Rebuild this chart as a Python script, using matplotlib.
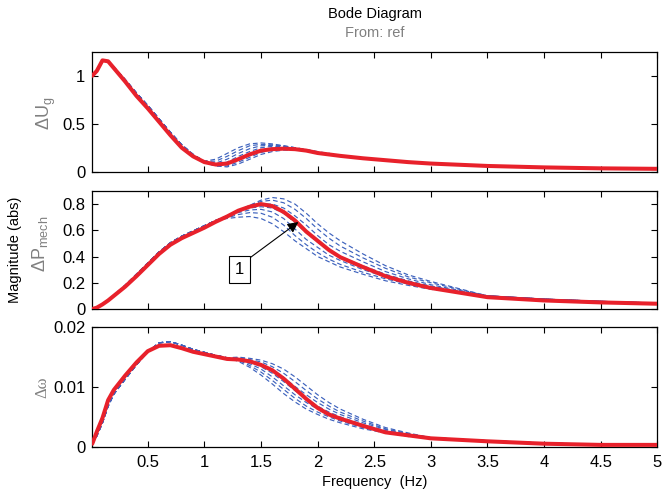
import matplotlib
matplotlib.use("Agg")
import matplotlib.pyplot as plt
import numpy as np

plt.rcParams['font.family'] = ['Liberation Sans', 'DejaVu Sans']
plt.rcParams['mathtext.fontset'] = 'custom'
plt.rcParams['mathtext.rm'] = 'Liberation Sans'
plt.rcParams['mathtext.it'] = 'Liberation Sans:italic'

# Frequency grid (Hz) shared by all responses
freq_hz = [0.01, 0.05, 0.1, 0.15, 0.2, 0.3, 0.4, 0.5, 0.6, 0.7, 0.8, 0.9,
           1.0, 1.1, 1.2, 1.3, 1.4, 1.5, 1.6, 1.7, 1.8, 1.9, 2.0, 2.1, 2.2,
           2.4, 2.6, 2.8, 3.0, 3.5, 4.0, 4.5, 5.0]

# --- Delta U_g -------------------------------------------------------------
ug_nominal = [1.00, 1.05, 1.16, 1.15, 1.08, 0.94, 0.79, 0.66, 0.52, 0.38,
              0.25, 0.16, 0.10, 0.075, 0.085, 0.13, 0.18, 0.22, 0.235, 0.24,
              0.235, 0.22, 0.195, 0.18, 0.165, 0.14, 0.12, 0.10, 0.085,
              0.06, 0.045, 0.035, 0.03]
ug_var_low = [1.00, 1.05, 1.15, 1.15, 1.09, 0.96, 0.82, 0.69, 0.55, 0.41,
              0.28, 0.18]                       # 0.01 .. 0.9 Hz
ug_var_mid = [                                   # 1.0 .. 2.0 Hz
    [0.11, 0.13, 0.19, 0.25, 0.29, 0.30, 0.29, 0.27, 0.25, 0.23, 0.21],
    [0.11, 0.11, 0.16, 0.22, 0.27, 0.285, 0.28, 0.27, 0.25, 0.23, 0.205],
    [0.105, 0.09, 0.13, 0.19, 0.24, 0.27, 0.275, 0.265, 0.25, 0.23, 0.20],
    [0.10, 0.075, 0.10, 0.16, 0.21, 0.25, 0.265, 0.26, 0.245, 0.225, 0.20],
    [0.10, 0.065, 0.08, 0.13, 0.18, 0.225, 0.25, 0.25, 0.24, 0.22, 0.20],
    [0.095, 0.06, 0.06, 0.10, 0.15, 0.20, 0.23, 0.24, 0.235, 0.22, 0.195],
    [0.095, 0.06, 0.05, 0.08, 0.13, 0.18, 0.21, 0.225, 0.225, 0.215, 0.195],
]
ug_var_high = [0.19, 0.17, 0.145, 0.12, 0.10, 0.085, 0.06, 0.045, 0.035,
               0.03]                             # 2.1 .. 5.0 Hz

# --- Delta P_mech ----------------------------------------------------------
pm_nominal = [0.0, 0.01, 0.035, 0.065, 0.10, 0.17, 0.25, 0.335, 0.42, 0.49,
              0.54, 0.58, 0.62, 0.665, 0.705, 0.75, 0.78, 0.80, 0.785, 0.74,
              0.675, 0.59, 0.52, 0.45, 0.395, 0.32, 0.25, 0.20, 0.16, 0.09,
              0.065, 0.05, 0.04]
pm_var_low = [0.0, 0.01, 0.037, 0.068, 0.105, 0.18, 0.265, 0.35, 0.435,
              0.505, 0.555, 0.595, 0.635, 0.675]  # 0.01 .. 1.1 Hz
pm_var_mid = [                                   # 1.2 .. 3.0 Hz
    [0.71, 0.75, 0.79, 0.83, 0.85, 0.84, 0.80, 0.73, 0.65, 0.58, 0.52, 0.42, 0.33, 0.26, 0.21],
    [0.71, 0.75, 0.79, 0.82, 0.83, 0.81, 0.76, 0.69, 0.61, 0.54, 0.48, 0.39, 0.31, 0.245, 0.20],
    [0.71, 0.75, 0.785, 0.80, 0.80, 0.77, 0.71, 0.64, 0.56, 0.49, 0.44, 0.36, 0.285, 0.23, 0.185],
    [0.705, 0.745, 0.77, 0.78, 0.77, 0.73, 0.66, 0.58, 0.51, 0.45, 0.40, 0.33, 0.265, 0.215, 0.175],
    [0.70, 0.735, 0.755, 0.76, 0.74, 0.69, 0.61, 0.53, 0.47, 0.41, 0.37, 0.30, 0.245, 0.20, 0.165],
    [0.695, 0.72, 0.735, 0.73, 0.70, 0.64, 0.56, 0.49, 0.43, 0.38, 0.34, 0.28, 0.23, 0.19, 0.155],
    [0.69, 0.70, 0.705, 0.69, 0.65, 0.59, 0.52, 0.46, 0.40, 0.36, 0.32, 0.265, 0.215, 0.18, 0.15],
]
pm_var_high = [0.10, 0.075, 0.058, 0.045]        # 3.5 .. 5.0 Hz

# --- Delta omega -----------------------------------------------------------
w_nominal = [0.0005, 0.0025, 0.0048, 0.0078, 0.0095, 0.0119, 0.0141, 0.0160,
             0.0169, 0.0170, 0.0165, 0.0159, 0.0155, 0.0151, 0.0147, 0.0146,
             0.0143, 0.0137, 0.0128, 0.0114, 0.0097, 0.0080, 0.0065, 0.0054,
             0.0047, 0.0035, 0.0024, 0.0019, 0.0014, 0.0009, 0.0005, 0.0003,
             0.0003]
w_var_low = [0.0004, 0.0018, 0.0040, 0.0068, 0.0088, 0.0113, 0.0137, 0.0159,
             0.0174, 0.0176, 0.0170, 0.0163, 0.0158, 0.0153, 0.0149]  # 0.01 .. 1.2 Hz
w_var_mid = [                                    # 1.3 .. 2.8 Hz
    [0.0150, 0.0148, 0.0145, 0.0139, 0.0130, 0.0117, 0.0102, 0.0087, 0.0074, 0.0063, 0.0046, 0.0032, 0.0023],
    [0.0149, 0.0146, 0.0142, 0.0134, 0.0123, 0.0109, 0.0094, 0.0080, 0.0068, 0.0058, 0.0043, 0.0030, 0.0022],
    [0.0148, 0.0144, 0.0138, 0.0129, 0.0116, 0.0101, 0.0087, 0.0074, 0.0063, 0.0054, 0.0040, 0.0029, 0.0021],
    [0.0147, 0.0142, 0.0134, 0.0123, 0.0109, 0.0094, 0.0080, 0.0068, 0.0058, 0.0050, 0.0037, 0.0027, 0.0020],
    [0.0146, 0.0139, 0.0130, 0.0117, 0.0102, 0.0087, 0.0074, 0.0063, 0.0054, 0.0046, 0.0034, 0.0025, 0.0019],
    [0.0145, 0.0136, 0.0125, 0.0111, 0.0096, 0.0081, 0.0068, 0.0058, 0.0050, 0.0043, 0.0032, 0.0024, 0.0018],
    [0.0143, 0.0133, 0.0120, 0.0105, 0.0089, 0.0075, 0.0063, 0.0054, 0.0046, 0.0040, 0.0030, 0.0023, 0.0017],
]
w_var_high = [0.0015, 0.0010, 0.0006, 0.0004, 0.0003]  # 3.0 .. 5.0 Hz

x_ticks = [0.5, 1, 1.5, 2, 2.5, 3, 3.5, 4, 4.5, 5]
x_ticklabels = ['0.5', '1', '1.5', '2', '2.5', '3', '3.5', '4', '4.5', '5']

panels = [
    dict(nom=ug_nominal, low=ug_var_low, mid=ug_var_mid, high=ug_var_high,
         ylim=(0, 1.25), yticks=[0, 0.5, 1], yticklabels=['0', '0.5', '1'],
         rect=[0.1394, 0.6531, 0.8535, 0.2424]),
    dict(nom=pm_nominal, low=pm_var_low, mid=pm_var_mid, high=pm_var_high,
         ylim=(0, 0.9), yticks=[0, 0.2, 0.4, 0.6, 0.8],
         yticklabels=['0', '0.2', '0.4', '0.6', '0.8'],
         rect=[0.1394, 0.3758, 0.8535, 0.2384]),
    dict(nom=w_nominal, low=w_var_low, mid=w_var_mid, high=w_var_high,
         ylim=(0, 0.02), yticks=[0, 0.01, 0.02], yticklabels=['0', '0.01', '0.02'],
         rect=[0.1394, 0.0976, 0.8535, 0.2412]),
]

fig = plt.figure(figsize=(6.62, 4.95), dpi=100)
blue = '#3d62bd'
red = '#e8212b'
axes = []
for i, p in enumerate(panels):
    ax = fig.add_axes(p['rect'])
    for mid in p['mid']:
        ax.plot(freq_hz, p['low'] + mid + p['high'], color=blue, lw=0.85,
                dashes=(4, 2.5), zorder=2)
    ax.plot(freq_hz, p['nom'], color=red, lw=2.9, zorder=3,
            solid_joinstyle='round', solid_capstyle='round')
    ax.set_xlim(0.01, 5)
    ax.set_ylim(*p['ylim'])
    ax.set_yticks(p['yticks'])
    ax.set_yticklabels(p['yticklabels'])
    ax.set_xticks(x_ticks)
    if i == 2:
        ax.set_xticklabels(x_ticklabels)
    else:
        ax.set_xticklabels([])
    ax.tick_params(direction='in', top=True, right=True, length=4,
                   width=0.8, labelsize=12)
    ax.tick_params(axis='y', pad=5)
    ax.tick_params(axis='x', pad=6)
    for s in ax.spines.values():
        s.set_linewidth(0.9)
    axes.append(ax)

# channel labels
grey = '#808080'
fig.text(46 / 662, 1 - 113 / 495, r'$\Delta\mathrm{U}_\mathrm{g}$', rotation=90,
         color=grey, fontsize=13, ha='center', va='center')
fig.text(40 / 662, 1 - 244 / 495, r'$\Delta\mathrm{P}_\mathrm{mech}$', rotation=90,
         color=grey, fontsize=13, ha='center', va='center')
fig.text(42 / 662, 1 - 387 / 495, 'Δω', rotation=90, color=grey,
         fontsize=12, ha='center', va='center',
         family=['Liberation Serif', 'DejaVu Serif'])
fig.text(15 / 662, 1 - 250 / 495, 'Magnitude (abs)', rotation=90, color='black',
         fontsize=10.5, ha='center', va='center')

fig.text(375 / 662, 1 - 14 / 495, 'Bode Diagram', fontsize=10.5, ha='center', va='center')
fig.text(375 / 662, 1 - 33 / 495, 'From: ref', fontsize=10.5, color=grey,
         ha='center', va='center')
fig.text(375 / 662, 1 - 482 / 495, 'Frequency  (Hz)', fontsize=10.5, ha='center', va='center')

# marker for the nominal response
axes[1].annotate('1', xy=(1.83, 0.663), xytext=(1.31, 0.30), fontsize=12,
                 ha='center', va='center',
                 bbox=dict(boxstyle='square,pad=0.35', fc='white', ec='black', lw=0.8),
                 arrowprops=dict(arrowstyle='-|>', color='black', lw=0.8,
                                 mutation_scale=16, shrinkA=0, shrinkB=0,
                                 relpos=(1, 1)),
                 zorder=5)

fig.savefig('out.png', dpi=100)
